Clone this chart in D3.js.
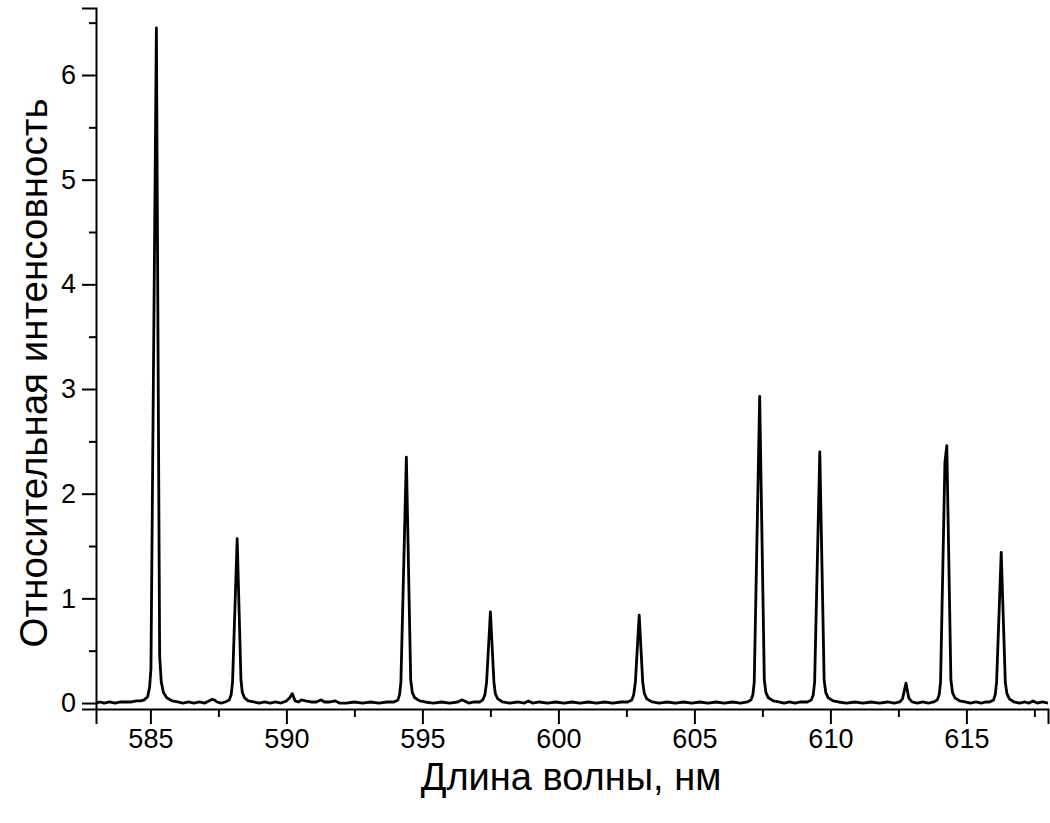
<!DOCTYPE html>
<html>
<head>
<meta charset="utf-8">
<script src="https://cdn.jsdelivr.net/npm/d3@7"></script>
<style>
  html, body { margin: 0; padding: 0; background: #fff; }
  svg { display: block; }
</style>
</head>
<body>
<svg id="chart" width="1050" height="823"></svg>
<script>
// ---- data ----
const xTitle = "Длина волны, нм";
const yTitle = "Относительная интенсовность";
const xMajorTicks = [585, 590, 595, 600, 605, 610, 615];
const xMinorTicks = [587.5, 592.5, 597.5, 602.5, 607.5, 612.5, 617.5];
const yMajorTicks = [0, 1, 2, 3, 4, 5, 6];
const yMinorTicks = [0.5, 1.5, 2.5, 3.5, 4.5, 5.5, 6.5];
const xDomain = [583, 618];
const yDomain = [-0.057, 6.64];

// spectrum: [wavelength nm, relative intensity]
const spectrum = [
  [583.0,0.0],[583.15,0.01],[583.3,0.0],[583.5,0.01],[583.7,0.0],[583.9,0.01],[584.1,0.01],[584.3,0.01],[584.5,0.02],[584.65,0.02],
  [584.77,0.03],[584.9,0.06],[584.97,0.15],[585.02,0.33],[585.22,6.45],[585.34,0.45],[585.4,0.2],[585.48,0.1],[585.6,0.05],[585.8,0.02],
  [586.0,0.01],[586.2,0.0],[586.4,0.01],[586.6,0.0],[586.8,0.01],[587.0,0.0],[587.15,0.02],[587.25,0.035],[587.35,0.03],[587.45,0.01],[587.6,0.0],
  [587.75,0.01],[587.9,0.03],[587.97,0.08],[588.02,0.2],[588.19,1.57],[588.33,0.22],[588.38,0.1],[588.46,0.05],[588.6,0.02],
  [588.8,0.01],[589.0,0.0],[589.2,0.01],[589.4,0.0],[589.6,0.01],[589.8,0.0],[590.0,0.02],[590.12,0.05],[590.22,0.09],[590.32,0.02],
  [590.45,0.01],[590.55,0.03],[590.7,0.02],[590.9,0.01],[591.1,0.01],[591.28,0.03],[591.4,0.01],[591.6,0.01],[591.8,0.02],[591.95,0.0],
  [592.2,0.0],[592.5,0.01],[592.8,0.0],[593.1,0.01],[593.4,0.0],[593.7,0.01],
  [593.95,0.01],[594.1,0.03],[594.16,0.08],[594.21,0.2],[594.41,2.35],[594.57,0.22],[594.63,0.1],[594.72,0.05],[594.9,0.02],
  [595.1,0.01],[595.4,0.0],[595.7,0.01],[596.0,0.0],[596.3,0.01],[596.45,0.03],[596.55,0.02],[596.7,0.0],[596.9,0.01],
  [597.1,0.01],[597.22,0.03],[597.3,0.08],[597.36,0.2],[597.5,0.87],[597.63,0.2],[597.68,0.09],[597.77,0.04],[597.95,0.01],
  [598.2,0.0],[598.5,0.01],[598.75,0.0],[598.9,0.02],[599.05,0.0],[599.3,0.01],[599.6,0.0],[599.9,0.01],[600.2,0.0],[600.5,0.01],
  [600.8,0.0],[601.1,0.01],[601.4,0.0],[601.7,0.01],[602.0,0.0],[602.3,0.01],
  [602.55,0.01],[602.7,0.03],[602.77,0.08],[602.83,0.2],[602.97,0.84],[603.1,0.2],[603.16,0.09],[603.25,0.04],[603.45,0.01],
  [603.7,0.0],[604.0,0.01],[604.3,0.0],[604.6,0.01],[604.9,0.0],[605.2,0.01],[605.5,0.0],[605.8,0.01],[606.1,0.0],[606.4,0.01],[606.7,0.0],
  [606.95,0.01],[607.08,0.03],[607.15,0.08],[607.2,0.2],[607.4,2.93],[607.57,0.22],[607.63,0.1],[607.72,0.05],[607.9,0.02],
  [608.1,0.01],[608.3,0.0],[608.5,0.01],[608.7,0.0],[608.9,0.01],
  [609.15,0.01],[609.3,0.03],[609.37,0.08],[609.42,0.2],[609.61,2.40],[609.77,0.22],[609.83,0.1],[609.92,0.05],[610.1,0.02],
  [610.3,0.01],[610.6,0.0],[610.9,0.01],[611.2,0.0],[611.5,0.01],[611.8,0.0],[612.1,0.01],[612.35,0.0],
  [612.55,0.01],[612.65,0.04],[612.78,0.19],[612.88,0.05],[613.0,0.01],
  [613.2,0.0],[613.4,0.01],[613.6,0.0],
  [613.8,0.01],[613.93,0.03],[614.0,0.08],[614.05,0.2],[614.21,2.3],[614.28,2.46],[614.43,0.22],[614.49,0.1],[614.58,0.05],[614.75,0.02],
  [614.95,0.01],[615.15,0.0],[615.35,0.01],[615.55,0.0],[615.7,0.01],
  [615.85,0.01],[616.0,0.03],[616.06,0.08],[616.11,0.2],[616.28,1.44],[616.43,0.2],[616.49,0.09],[616.58,0.04],[616.75,0.01],
  [616.95,0.0],[617.15,0.01],[617.3,0.0],[617.45,0.02],[617.6,0.0],[617.8,0.01],[618.0,0.0]
];

// ---- layout ----
const svg = d3.select("#chart");
const mLeft = 96, mRight = 1048, mTop = 8, mBottom = 709;
const x = d3.scaleLinear().domain(xDomain).range([mLeft, mRight]);
const y = d3.scaleLinear().domain(yDomain).range([mBottom, mTop]);
const font = "'Liberation Sans', Arial, sans-serif";

// line
svg.append("path")
  .datum(spectrum)
  .attr("fill", "none")
  .attr("stroke", "#000")
  .attr("stroke-width", 2.8)
  .attr("stroke-linejoin", "round")
  .attr("d", d3.line().x(d => x(d[0])).y(d => y(d[1])));

// x axis
const gx = svg.append("g").attr("transform", `translate(0,${mBottom})`);
gx.call(d3.axisBottom(x).tickValues(xMajorTicks).tickSize(15).tickPadding(5).tickFormat(d3.format("d")));
const gxm = svg.append("g").attr("transform", `translate(0,${mBottom})`);
gxm.call(d3.axisBottom(x).tickValues(xMinorTicks).tickSize(8).tickFormat(""));
gxm.select(".domain").remove();

// y axis
const gy = svg.append("g").attr("transform", `translate(${mLeft},0)`);
gy.call(d3.axisLeft(y).tickValues(yMajorTicks).tickSize(14).tickPadding(6).tickFormat(d3.format("d")));
const gym = svg.append("g").attr("transform", `translate(${mLeft},0)`);
gym.call(d3.axisLeft(y).tickValues(yMinorTicks).tickSize(7).tickFormat(""));
gym.select(".domain").remove();

svg.selectAll(".domain").attr("stroke", "#000").attr("stroke-width", 2);
svg.selectAll(".tick line").attr("stroke", "#000").attr("stroke-width", 2);
svg.selectAll(".tick text").attr("fill", "#000").style("font-family", font).style("font-size", "27px");

// titles
svg.append("text")
  .attr("x", 571)
  .attr("y", 790)
  .attr("text-anchor", "middle")
  .style("font-family", font)
  .style("font-size", "38px")
  .attr("fill", "#000")
  .text(xTitle);

svg.append("text")
  .attr("transform", `translate(47,373) rotate(-90)`)
  .attr("text-anchor", "middle")
  .style("font-family", font)
  .style("font-size", "38.5px")
  .attr("fill", "#000")
  .text(yTitle);
</script>
</body>
</html>
